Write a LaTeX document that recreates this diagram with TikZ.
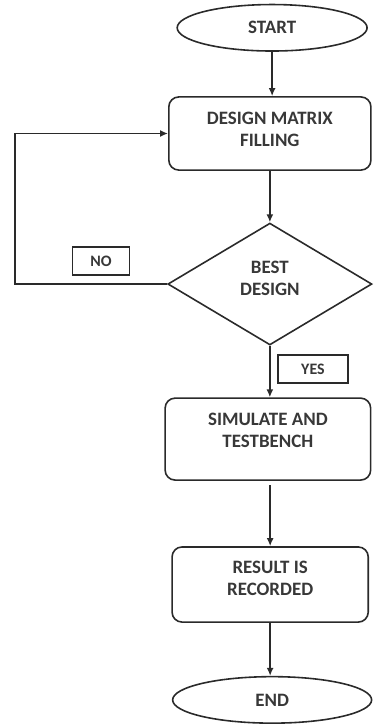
\documentclass[tikz,border=0pt]{standalone}
\usepackage{fontspec}
\setmainfont{Carlito}
\usetikzlibrary{arrows.meta,positioning,shapes.geometric}
\definecolor{ink}{HTML}{2A2A2A}
\definecolor{inktext}{HTML}{383838}

\begin{document}
\begin{tikzpicture}[
  term/.style={ellipse, draw=ink, line width=1.6pt, inner sep=0pt,
               minimum height=1.64cm, text=inktext,
               font=\fontsize{19}{22}\selectfont\bfseries},
  proc/.style={draw=ink, line width=1.6pt, rounded corners=10pt,
               align=center, text=inktext, inner sep=0pt,
               font=\fontsize{19}{22}\selectfont\bfseries},
  decide/.style={diamond, draw=ink, line width=1.6pt, inner sep=0pt,
                 align=center, text=inktext,
                 font=\fontsize{19}{22}\selectfont\bfseries},
  tag/.style={draw=ink, line width=1.4pt, minimum height=0.98cm,
              text=inktext, font=\fontsize{16}{19}\selectfont\bfseries},
  flarrow/.style={-{Latex[length=8pt,width=7pt]}, ink, line width=1.6pt}
]
  \useasboundingbox (0,0) rectangle (13.16,25.54);

  % ── main column ──
  \node[term, minimum width=6.7cm] (start) at (9.6, 24.56) {START};
  \node[proc, minimum width=7.13cm, minimum height=2.58cm, text depth=9pt]
    (fill) at (9.52, 20.83) {DESIGN MATRIX\\FILLING};
  \node[decide, minimum width=7.2cm, minimum height=4.3cm, text depth=12pt]
    (best) at (9.52, 15.52) {BEST\\DESIGN};
  \node[proc, minimum width=7.25cm, minimum height=2.89cm, text depth=18pt]
    (sim) at (9.45, 10.05) {SIMULATE AND\\TESTBENCH};
  \node[proc, minimum width=6.92cm, minimum height=2.65cm, text depth=13pt]
    (rec) at (9.53, 4.92) {RESULT IS\\RECORDED};
  \node[term, minimum width=7.02cm] (stop) at (9.6, 0.85) {END};

  % ── decision labels ──
  \node[tag, minimum width=2.01cm] (no) at (3.56, 16.33) {NO};
  \node[tag, minimum width=2.47cm] (yes) at (11.04, 12.52) {YES};

  % arrows down the column
  \draw[flarrow] (start) -- (start |- fill.north);
  \draw[flarrow] (fill.south -| best.north) -- (best.north);
  \draw[flarrow] (best.south) -- (best.south |- sim.north);
  \draw[flarrow] (sim.south -| rec.north) ++(0,-0.15) -- (rec.north);
  \draw[flarrow] (rec.south) -- (rec.south |- stop.north);

  % loop back on NO
  \coordinate (back) at (0.53, 0);
  \draw[flarrow] (best.west) -- (best.west -| back) |- (fill.west);
\end{tikzpicture}
\end{document}
